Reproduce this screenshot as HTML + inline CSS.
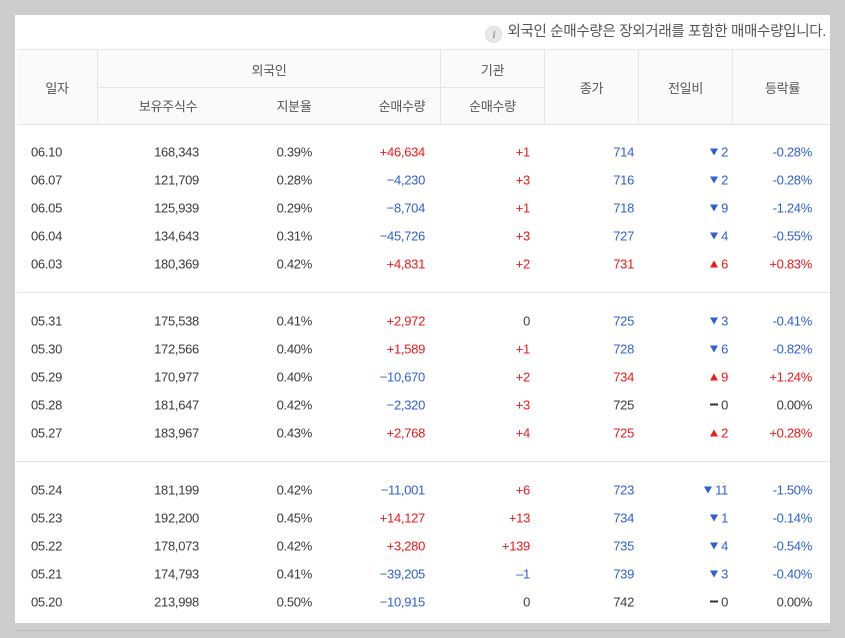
<!DOCTYPE html>
<html><head><meta charset="utf-8">
<style>
body{margin:0;width:845px;height:638px;background:#cdcdcd;position:relative;overflow:hidden;font-family:"Liberation Sans","Noto Sans CJK KR",sans-serif;font-size:13px;color:#3a3a3a;letter-spacing:-0.3px}
#panel{position:absolute;left:15px;top:15px;width:815px;height:608px;background:#fff}
#bottomline{position:absolute;left:15px;top:630px;width:815px;height:1px;background:#b8b8b8}
.abs{position:absolute;white-space:nowrap}
#note{right:4px;top:5px;color:#555;font-size:14.5px}
#note .i{display:inline-block;width:15px;height:15px;border-radius:50%;background:#e8e8e8;border:1px solid #ddd;color:#777;font-style:italic;font-family:"Liberation Serif",serif;font-size:12px;text-align:center;line-height:15px;margin-right:5px;vertical-align:-2px}
#head{position:absolute;left:2px;top:34px;width:813px;height:74px;background:#fafafa;border-top:1px solid #e5e5e5;border-bottom:1px solid #e3e3e3}
.vl{position:absolute;width:1px;background:#e5e5e5}
.hl{position:absolute;height:1px;background:#e5e5e5}
.hc{position:absolute;text-align:center;color:#555;font-size:13px}
.cell{position:absolute;text-align:right;transform:translateY(-50%)}
.red{color:#f01818}.blue{color:#2f5fd6}
.sep{position:absolute;left:2px;width:813px;height:1px;background:#e3e3e3}
.tri-d{display:inline-block;width:0;height:0;border-left:4.5px solid transparent;border-right:4.5px solid transparent;border-top:7px solid #2f5fd6;margin-right:3px;vertical-align:1px}
.tri-u{display:inline-block;width:0;height:0;border-left:4.5px solid transparent;border-right:4.5px solid transparent;border-bottom:7px solid #f01818;margin-right:3px;vertical-align:1px}
.dash{display:inline-block;width:8px;height:2px;background:#333;margin-right:3px;vertical-align:4px}
</style></head>
<body>
<div id="panel">
  <div id="note" class="abs"><span class="i">i</span>외국인 순매수량은 장외거래를 포함한 매매수량입니다.</div>
  <div id="head">
    <div class="vl" style="left:80px;top:0;height:74px"></div>
    <div class="vl" style="left:423px;top:0;height:74px"></div>
    <div class="vl" style="left:527px;top:0;height:74px"></div>
    <div class="vl" style="left:621px;top:0;height:74px"></div>
    <div class="vl" style="left:715px;top:0;height:74px"></div>
    <div class="hl" style="left:81px;top:37px;width:446px"></div>
    <div class="hc" style="left:0;width:80px;top:28px">일자</div>
    <div class="hc" style="left:81px;width:342px;top:10px">외국인</div>
    <div class="hc" style="left:424px;width:103px;top:10px">기관</div>
    <div class="hc" style="left:91px;width:120px;top:46px">보유주식수</div>
    <div class="hc" style="left:237px;width:80px;top:46px">지분율</div>
    <div class="hc" style="left:345px;width:80px;top:46px">순매수량</div>
    <div class="hc" style="left:424px;width:103px;top:46px">순매수량</div>
    <div class="hc" style="left:528px;width:93px;top:28px">종가</div>
    <div class="hc" style="left:622px;width:93px;top:28px">전일비</div>
    <div class="hc" style="left:716px;width:99px;top:28px">등락률</div>
  </div>
  <div class="sep" style="top:277px"></div>
  <div class="sep" style="top:446px"></div>
  <div id="rows"></div>
</div>
<div id="bottomline"></div>
<script>
const dates=["06.10","06.07","06.05","06.04","06.03","05.31","05.30","05.29","05.28","05.27","05.24","05.23","05.22","05.21","05.20"];
const held=["168,343","121,709","125,939","134,643","180,369","175,538","172,566","170,977","181,647","183,967","181,199","192,200","178,073","174,793","213,998"];
const ratio=["0.39%","0.28%","0.29%","0.31%","0.42%","0.41%","0.40%","0.40%","0.42%","0.43%","0.42%","0.45%","0.42%","0.41%","0.50%"];
const foreignNet=[46634,-4230,-8704,-45726,4831,2972,1589,-10670,-2320,2768,-11001,14127,3280,-39205,-10915];
const instNet=[1,3,1,3,2,0,1,2,3,4,6,13,139,-1,0];
const closes=[714,716,718,727,731,725,728,734,725,725,723,734,735,739,742];
const changes=[-2,-2,-9,-4,6,-3,-6,9,0,2,-11,-1,-4,-3,0];
const rates=[-0.28,-0.28,-1.24,-0.55,0.83,-0.41,-0.82,1.24,0,0.28,-1.50,-0.14,-0.54,-0.40,0];
const fmt=n=>Math.abs(n).toLocaleString('en-US');
const signed=n=>n>0?'+'+fmt(n):n<0?'\u2212'+fmt(n):'0';
const cls=n=>n>0?'red':n<0?'blue':'';
const rowsEl=document.getElementById('rows');
function rowY(i){const g=Math.floor(i/5),k=i%5;return 137+g*169+k*28;}
function add(row,html,right,c,name,left){
  const d=document.createElement('div');
  d.className='cell '+(c||'');
  d.innerHTML=html;
  if(left!==undefined){d.style.left=left+'px';d.style.textAlign='left';}
  else d.style.right=(815-right)+'px';
  row.appendChild(d);
  
  
}
dates.forEach((dt,i)=>{
  const r=document.createElement('div');
  r.className='abs';r.style.left='0';r.style.top=rowY(i)+'px';r.style.width='815px';
  
  
  rowsEl.appendChild(r);
  add(r,dt,0,'','date-cell',16);
  add(r,held[i],184,'','shares-held-cell');
  add(r,ratio[i],297,'','ownership-cell');
  add(r,signed(foreignNet[i]),410,cls(foreignNet[i]),'foreign-net-cell');
  add(r,instNet[i]<0?'\u2013'+Math.abs(instNet[i]):signed(instNet[i]),515,cls(instNet[i]),'inst-net-cell');
  add(r,closes[i],619,cls(changes[i]),'close-cell');
  const ch=changes[i];
  const icon=ch>0?'<span class="tri-u"></span>':ch<0?'<span class="tri-d"></span>':'<span class="dash"></span>';
  add(r,icon+Math.abs(ch),713,cls(ch),'change-cell');
  const rt=rates[i];
  add(r,(rt>0?'+':rt<0?'-':'')+Math.abs(rt).toFixed(2)+'%',797,cls(rt),'rate-cell');
});
</script>
</body></html>
